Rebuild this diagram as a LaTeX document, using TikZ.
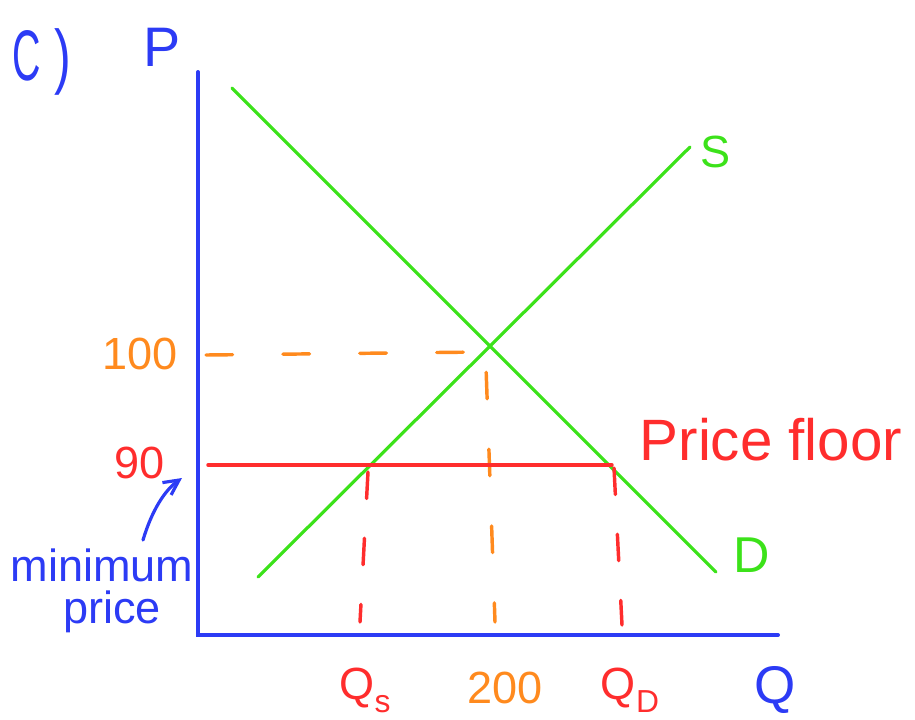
\documentclass[tikz,border=0pt]{standalone}
\usepackage{fontspec}
\setmainfont{Liberation Sans}
\usetikzlibrary{arrows.meta,calc}
\definecolor{PenBlue}{HTML}{2C3BF5}
\definecolor{PenGreen}{HTML}{3CE21A}
\definecolor{PenRed}{HTML}{FF2D2D}
\definecolor{PenOrange}{HTML}{FF8A1E}
\tikzset{
  every node/.style={inner sep=0pt},
  axis/.style={draw=PenBlue, line width=3pt, line cap=round},
  curve/.style={draw=PenGreen, line width=2.4pt, line cap=round},
  floorline/.style={draw=PenRed, line width=2.6pt, line cap=round},
  guide/.style={line width=2.6pt, line cap=round, dash pattern=on 20pt off 38pt},
  hand/.style={font=\fontsize{34}{38}\selectfont},
  pointer/.style={-{Straight Barb[length=4mm,width=4mm]}, draw=PenBlue, line width=2.4pt, line cap=round},
}
\newcommand{\subq}[1]{\raisebox{-0.55ex}{\fontsize{24}{26}\selectfont #1}}

\begin{document}
\begin{tikzpicture}[x=0.0265cm, y=-0.0265cm]
  \useasboundingbox (0,0) rectangle (915,719);
  % Axes
  \coordinate (origin) at (198,635);
  \coordinate (ptop) at (198,72);
  \coordinate (qend) at (778,635);
  \draw[axis] (ptop) -- (origin) -- (qend);
  \node[hand, text=PenBlue, font=\fontsize{54}{58}\selectfont] (part) at (42,62)
    {\scalebox{0.55}[1]{C}\hspace{10pt}\scalebox{0.7}[1]{)}};
  \node[hand, text=PenBlue, font=\fontsize{42}{46}\selectfont] (plabel) at (162,47) {P};
  \node[hand, text=PenBlue, font=\fontsize{40}{44}\selectfont] (qlabel) at (775,690) {Q};
  % Demand and supply
  \coordinate (d1) at (232,88);
  \coordinate (d2) at (716,572);
  \coordinate (s1) at (258,577);
  \coordinate (s2) at (690,147);
  \draw[curve] (d1) -- (d2);
  \draw[curve] (s1) -- (s2);
  \node[hand, text=PenGreen] (slabel) at (716,152) {S};
  \node[hand, text=PenGreen, font=\fontsize{38}{42}\selectfont] (dlabel) at (752,555) {D};
  % Equilibrium guides
  \coordinate (eq) at (482,352);
  \coordinate (eqfoot) at (495,622);
  \node[hand, text=PenOrange] (p100) at (140,354) {100};
  \node[hand, text=PenOrange] (q200) at (505,688) {200};
  \draw[guide, draw=PenOrange] (206,355) -- (eq);
  \draw[guide, draw=PenOrange, dash phase=-4pt] (486,367) -- (eqfoot);
  % Price floor
  \coordinate (fl) at (208,465);
  \coordinate (fr) at (612,465);
  \draw[floorline] (fl) -- (fr);
  \node[hand, text=PenRed] (p90) at (140,463) {90};
  \node[hand, text=PenRed, font=\fontsize{44}{48}\selectfont] (floorlabel) at (771,440) {Price floor};
  \node[hand, text=PenRed] (qs) at (365,690) {Q\subq{s}};
  \node[hand, text=PenRed] (qd) at (630,690) {Q\subq{D}};
  \draw[guide, draw=PenRed, dash pattern=on 20pt off 30pt] (368,472) -- (360,622);
  \draw[guide, draw=PenRed, dash pattern=on 20pt off 30pt] (614,468) -- (622,625);
  % Note on the floor
  \node[hand, text=PenBlue] (minimum) at (102,565) {minimum};
  \node[hand, text=PenBlue] (price) at (112,612) {price};
  \coordinate (tip) at (182,478);
  \draw[pointer] (143,540) .. controls (152,510) and (165,490) .. (tip);
\end{tikzpicture}
\end{document}
